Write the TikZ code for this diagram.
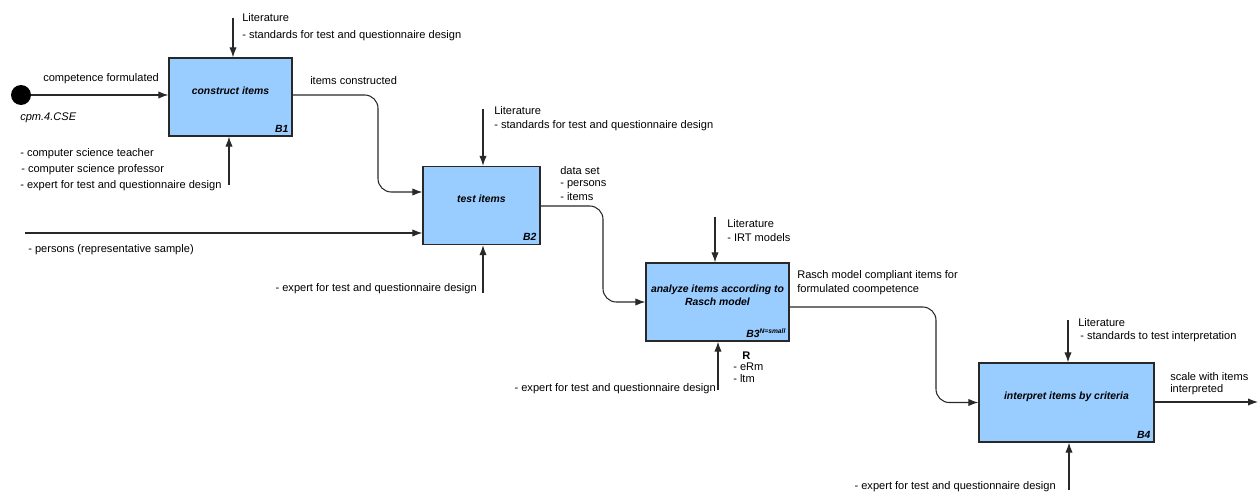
\documentclass[tikz,border=0pt]{standalone}
\usepackage{fontspec}
\setmainfont{Liberation Sans}
\usepackage{xcolor}
\usetikzlibrary{arrows.meta}

\definecolor{boxblue}{RGB}{153,204,255}
\definecolor{linegray}{RGB}{40,40,40}

\tikzset{
  activity/.style={draw=linegray, fill=boxblue, line width=1pt, inner sep=0pt},
  flow/.style={draw=linegray, line width=0.8pt, -{Latex[length=7.5pt,width=5.5pt]}},
  txt/.style={anchor=west, inner sep=0pt, font=\fontsize{8.3}{10}\selectfont},
  txtr/.style={txt, anchor=east},
  title/.style={inner sep=0pt, align=center, font=\fontsize{7.8}{9.5}\selectfont\bfseries\itshape},
  boxid/.style={anchor=south east, inner sep=3pt, font=\fontsize{7.8}{9}\selectfont\bfseries\itshape}
}

\begin{document}
\begin{tikzpicture}[x=0.75pt,y=0.75pt,yscale=-1,xscale=1]
\useasboundingbox (0,0) rectangle (1260,492);

% Activity boxes
\node[activity, minimum width=92.25pt, minimum height=58.5pt] (B1) at (230.5,97) {};
\node[activity, minimum width=87.75pt, minimum height=58.5pt] (B2) at (481.5,205.5) {};
\node[activity, minimum width=107.25pt, minimum height=58.5pt] (B3) at (717.5,302) {};
\node[activity, minimum width=131.25pt, minimum height=59.25pt] (B4) at (1066.5,402.5) {};

% Box titles
\node[title] (t1) at (230.5,91) {construct items};
\node[title] (t2) at (481.5,199) {test items};
\node[title] (t3) at (717.5,295) {analyze items according to\\Rasch model};
\node[title] (t4) at (1066.5,397) {interpret items by criteria};

% Box ids
\node[boxid] (id1) at (B1.south east) {B1};
\node[boxid] (id2) at (B2.south east) {B2};
\node[boxid] (id3) at (B3.south east) {B3\raisebox{3pt}{\fontsize{5}{6}\selectfont N=small}};
\node[boxid] (id4) at (B4.south east) {B4};

% Start
\node[circle, fill=black, inner sep=0pt, minimum size=15pt] (start) at (21,95) {};
\draw[flow] (start) -- (B1.west |- start);
\draw (43,79) node[txt] (cf) {competence formulated};
\draw (20,118) node[txt] (cpm) {\itshape cpm.4.CSE};

% B1 control and mechanism
\coordinate (lit1) at (233,18);
\draw[flow] (lit1) -- (lit1 |- B1.north);
\draw (242,18) node[txt] (l1a) {Literature};
\draw (242,36) node[txt] (l1b) {- standards for test and questionnaire design};
\coordinate (mech1) at (229,185);
\draw[flow] (mech1) -- (mech1 |- B1.south);
\draw (20,154) node[txt] (m1a) {- computer science teacher};
\draw (21,170) node[txt] (m1b) {- computer science professor};
\draw (20,186) node[txt] (m1c) {- expert for test and questionnaire design};

% B1 -> B2
\coordinate (c12) at (378,95);
\coordinate (e12) at (423,192);
\draw[flow, rounded corners=10] (B1.east |- c12) -- (c12) |- (B2.west |- e12);
\draw (310,81) node[txt] (o1) {items constructed};

% B2 inputs, control and mechanism
\coordinate (pers) at (25,233);
\draw[flow] (pers) -- (B2.west |- pers);
\draw (28,250) node[txt] (p1) {- persons (representative sample)};
\coordinate (lit2) at (483,109);
\draw[flow] (lit2) -- (lit2 |- B2.north);
\draw (494,111) node[txt] (l2a) {Literature};
\draw (494,126) node[txt] (l2b) {- standards for test and questionnaire design};
\coordinate (mech2) at (483,293);
\draw[flow] (mech2) -- (mech2 |- B2.south);
\draw (477,289) node[txtr] (m2) {- expert for test and questionnaire design};

% B2 -> B3
\coordinate (c23) at (603,206);
\draw[flow, rounded corners=10] (B2.east |- c23) -- (c23) |- (B3.west);
\draw (560,171) node[txt] (o2a) {data set};
\draw (560,185) node[txt] (o2b) {- persons};
\draw (560,197) node[txt] (o2c) {- items};

% B3 control and mechanism
\coordinate (lit3) at (715,217);
\draw[flow] (lit3) -- (lit3 |- B3.north);
\draw (727,224) node[txt] (l3a) {Literature};
\draw (727,238) node[txt] (l3b) {- IRT models};
\coordinate (mech3) at (718,390);
\draw[flow] (mech3) -- (mech3 |- B3.south);
\draw (716,389) node[txtr] (m3) {- expert for test and questionnaire design};
\draw (742,356) node[txt, font=\fontsize{8.3}{10}\selectfont\bfseries] (r0) {R};
\draw (733,367) node[txt] (r1) {- eRm};
\draw (733,379) node[txt] (r2) {- ltm};

% B3 -> B4
\coordinate (c34) at (936,307);
\draw[flow, rounded corners=10] (B3.east |- c34) -- (c34) |- (B4.west);
\draw (797,276) node[txt] (o3a) {Rasch model compliant items for};
\draw (797,290) node[txt] (o3b) {formulated coompetence};

% B4 control, mechanism and output
\coordinate (lit4) at (1068,320);
\draw[flow] (lit4) -- (lit4 |- B4.north);
\draw (1078,323) node[txt] (l4a) {Literature};
\draw (1080,337) node[txt] (l4b) {- standards to test interpretation};
\coordinate (mech4) at (1069,490);
\draw[flow] (mech4) -- (mech4 |- B4.south);
\draw (1056,487) node[txtr] (m4) {- expert for test and questionnaire design};
\coordinate (out4) at (1258,402);
\draw[flow] (B4.east |- out4) -- (out4);
\draw (1170,377) node[txt] (o4a) {scale with items};
\draw (1170,390) node[txt] (o4b) {interpreted};
\end{tikzpicture}
\end{document}
